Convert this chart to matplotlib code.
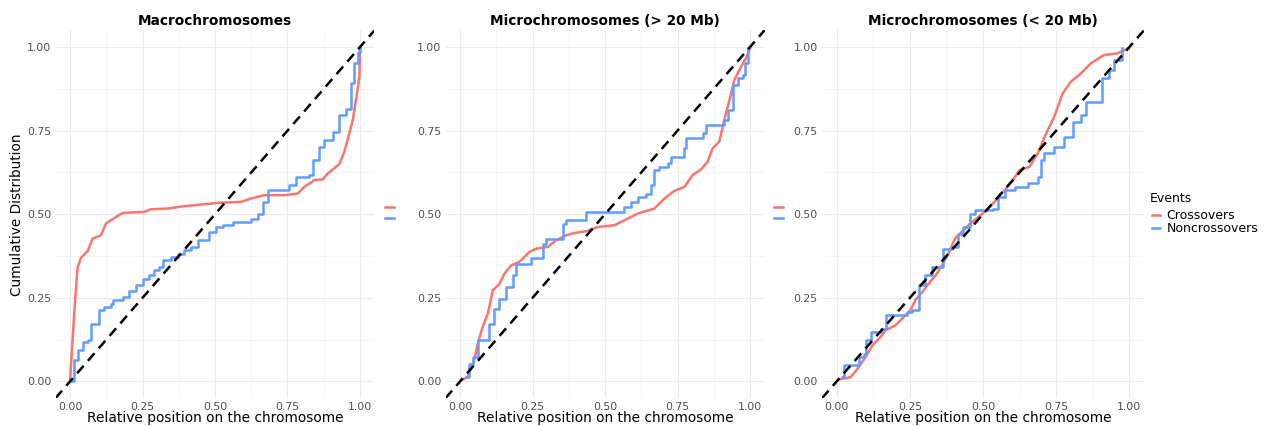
import matplotlib
matplotlib.use("agg")
import matplotlib.pyplot as plt
from matplotlib.lines import Line2D

# colours (ggplot default hue pair)
RED = "#F8766D"
BLUE = "#619CFF"

titles = ["Macrochromosomes", "Microchromosomes (> 20 Mb)", "Microchromosomes (< 20 Mb)"]
ticks = [0.0, 0.25, 0.5, 0.75, 1.0]
tick_labels = ["0.00", "0.25", "0.50", "0.75", "1.00"]
legend_title = "Events"
legend_labels = ["Crossovers", "Noncrossovers"]

# ECDF: relative position / cumulative fraction
macro_co_x = [0.0, 0.015, 0.026, 0.038, 0.061, 0.078, 0.107, 0.124, 0.159, 0.182, 0.256, 0.279,
              0.337, 0.394, 0.452, 0.509, 0.59, 0.624, 0.67, 0.739, 0.785, 0.808, 0.843, 0.871,
              0.889, 0.929, 0.946, 0.963, 0.975, 0.986, 0.998, 1.0, 1.0]
macro_co_y = [0.0, 0.21, 0.34, 0.37, 0.39, 0.427, 0.437, 0.472, 0.492, 0.504, 0.507, 0.515,
              0.517, 0.524, 0.529, 0.534, 0.537, 0.547, 0.557, 0.557, 0.562, 0.582, 0.602, 0.604,
              0.622, 0.65, 0.687, 0.741, 0.781, 0.841, 0.911, 0.99, 1.0]
macro_nco_x = [0.0, 0.015, 0.026, 0.044, 0.061, 0.072, 0.095, 0.101, 0.118, 0.141, 0.147, 0.182,
               0.205, 0.228, 0.251, 0.274, 0.291, 0.308, 0.32, 0.348, 0.371, 0.394, 0.417, 0.44,
               0.48, 0.503, 0.527, 0.561, 0.624, 0.647, 0.664, 0.682, 0.739, 0.756, 0.779, 0.825,
               0.837, 0.86, 0.877, 0.906, 0.929, 0.952, 0.969, 0.98, 0.992, 1.0]
macro_nco_y = [0.0, 0.063, 0.093, 0.118, 0.123, 0.173, 0.173, 0.213, 0.222, 0.232, 0.243, 0.252,
               0.272, 0.287, 0.307, 0.317, 0.332, 0.342, 0.362, 0.372, 0.382, 0.392, 0.402, 0.422,
               0.447, 0.462, 0.467, 0.477, 0.487, 0.502, 0.537, 0.572, 0.572, 0.587, 0.612, 0.617,
               0.662, 0.701, 0.722, 0.746, 0.796, 0.816, 0.891, 0.951, 0.986, 1.0]

big_co_x = [0.003, 0.026, 0.049, 0.061, 0.078, 0.096, 0.113, 0.136, 0.153, 0.176, 0.204, 0.239,
            0.262, 0.302, 0.331, 0.366, 0.394, 0.44, 0.475, 0.532, 0.567, 0.613, 0.67, 0.705,
            0.739, 0.774, 0.802, 0.831, 0.854, 0.871, 0.894, 0.911, 0.929, 0.946, 0.969, 0.986, 1.0]
big_co_y = [0.003, 0.013, 0.063, 0.113, 0.163, 0.203, 0.272, 0.292, 0.322, 0.347, 0.357, 0.387,
            0.397, 0.402, 0.422, 0.437, 0.444, 0.45, 0.462, 0.467, 0.482, 0.502, 0.517, 0.547,
            0.57, 0.582, 0.617, 0.634, 0.657, 0.697, 0.717, 0.781, 0.841, 0.901, 0.941, 0.966, 0.996]
big_nco_x = [0.021, 0.032, 0.044, 0.061, 0.09, 0.101, 0.118, 0.136, 0.159, 0.182, 0.193, 0.239,
             0.245, 0.279, 0.285, 0.297, 0.342, 0.354, 0.366, 0.423, 0.434, 0.527, 0.567, 0.59,
             0.613, 0.641, 0.659, 0.67, 0.687, 0.716, 0.728, 0.762, 0.774, 0.779, 0.825, 0.837,
             0.848, 0.911, 0.923, 0.94, 0.957, 0.975, 0.983, 0.992]
big_nco_y = [0.013, 0.053, 0.073, 0.123, 0.123, 0.173, 0.218, 0.248, 0.282, 0.317, 0.352, 0.352,
             0.37, 0.37, 0.412, 0.427, 0.427, 0.472, 0.482, 0.482, 0.507, 0.507, 0.522, 0.537,
             0.552, 0.562, 0.587, 0.632, 0.642, 0.652, 0.672, 0.672, 0.697, 0.727, 0.727, 0.742,
             0.767, 0.781, 0.811, 0.886, 0.906, 0.916, 0.951, 0.996]

small_co_x = [0.003, 0.048, 0.071, 0.099, 0.122, 0.15, 0.167, 0.201, 0.224, 0.252, 0.269, 0.292,
              0.314, 0.342, 0.359, 0.382, 0.404, 0.427, 0.45, 0.478, 0.501, 0.529, 0.574, 0.602,
              0.625, 0.659, 0.687, 0.71, 0.743, 0.772, 0.8, 0.834, 0.868, 0.913, 0.958, 0.998]
small_co_y = [0.005, 0.013, 0.038, 0.073, 0.108, 0.133, 0.153, 0.168, 0.188, 0.213, 0.243, 0.267,
              0.292, 0.322, 0.347, 0.382, 0.427, 0.447, 0.467, 0.487, 0.504, 0.527, 0.572, 0.602,
              0.632, 0.642, 0.682, 0.731, 0.791, 0.861, 0.896, 0.921, 0.951, 0.976, 0.981, 0.996]
small_nco_x = [0.018, 0.026, 0.065, 0.077, 0.094, 0.099, 0.116, 0.15, 0.167, 0.224, 0.241, 0.258,
               0.28, 0.303, 0.325, 0.359, 0.365, 0.393, 0.416, 0.433, 0.455, 0.472, 0.535, 0.552,
               0.574, 0.608, 0.653, 0.687, 0.698, 0.71, 0.743, 0.777, 0.806, 0.834, 0.851, 0.891,
               0.907, 0.93, 0.947, 0.975]
small_nco_y = [0.013, 0.048, 0.048, 0.073, 0.083, 0.123, 0.148, 0.158, 0.198, 0.198, 0.208, 0.213,
               0.287, 0.317, 0.342, 0.342, 0.397, 0.402, 0.442, 0.462, 0.502, 0.512, 0.517, 0.552,
               0.572, 0.582, 0.592, 0.612, 0.662, 0.682, 0.702, 0.731, 0.776, 0.796, 0.836, 0.836,
               0.906, 0.931, 0.961, 0.996]

panels = [
    (macro_co_x, macro_co_y, macro_nco_x, macro_nco_y),
    (big_co_x, big_co_y, big_nco_x, big_nco_y),
    (small_co_x, small_co_y, small_nco_x, small_nco_y),
]

W, H = 1270, 426
fig = plt.figure(figsize=(W / 100, H / 100), dpi=100)

# panel boxes in pixels: left, right (axis range -0.05..1.05)
boxes = [(55.5, 374.5), (445.5, 764.5), (822, 1144)]
top_px, bot_px = 30.3, 398.2

for i, ((cx, cy, nx_, ny), (l, r)) in enumerate(zip(panels, boxes)):
    ax = fig.add_axes([l / W, 1 - bot_px / H, (r - l) / W, (bot_px - top_px) / H])
    ax.set_xlim(-0.05, 1.05)
    ax.set_ylim(-0.05, 1.05)
    for s in ax.spines.values():
        s.set_visible(False)
    ax.set_xticks(ticks)
    ax.set_xticklabels(tick_labels)
    ax.set_yticks(ticks)
    ax.set_yticklabels(tick_labels)
    ax.set_xticks([0.125, 0.375, 0.625, 0.875], minor=True)
    ax.set_yticks([0.125, 0.375, 0.625, 0.875], minor=True)
    ax.tick_params(which="both", length=0, labelsize=7.8, labelcolor="#4D4D4D", pad=3)
    ax.grid(which="major", color="#EBEBEB", lw=0.8)
    ax.grid(which="minor", color="#F2F2F2", lw=0.5)
    ax.set_axisbelow(True)

    # crossovers are dense enough to look like a smooth line, noncrossovers are steps
    ax.plot(cx, cy, color=RED, lw=1.8, solid_joinstyle="round")
    ax.step(nx_, ny, where="post", color=BLUE, lw=1.8)
    ax.axline((0, 0), (1, 1), color="black", lw=1.8, dashes=(4, 2.6))

    ax.set_title(titles[i], fontsize=9.8, fontweight="bold", pad=4)
    ax.set_xlabel("Relative position on the chromosome", fontsize=9.9, labelpad=-1)
    if i == 0:
        ax.set_ylabel("Cumulative Distribution", fontsize=9.8, labelpad=2)

    handles = [Line2D([], [], color=RED, lw=1.8), Line2D([], [], color=BLUE, lw=1.8)]
    if i < 2:
        # these panels show the legend keys without text
        fig.legend(handles, ["", ""], loc="center left", frameon=False,
                   bbox_to_anchor=(385 / W, 1 - 213 / H) if i == 0 else (774 / W, 1 - 213 / H),
                   borderpad=0, borderaxespad=0,
                   handlelength=0.95, handleheight=0.5, labelspacing=0.15,
                   fontsize=6.5, handletextpad=0.2)
    else:
        fig.text(1150 / W, 1 - 199 / H, legend_title, fontsize=9, va="center", ha="left")
        fig.legend(handles, legend_labels, loc="center left",
                   frameon=False, bbox_to_anchor=(1152 / W, 1 - 222 / H), borderpad=0,
                   borderaxespad=0, handlelength=0.65, handleheight=0.6, labelspacing=0.0,
                   fontsize=9, handletextpad=0.5)

fig.savefig("out.png", dpi=100)
